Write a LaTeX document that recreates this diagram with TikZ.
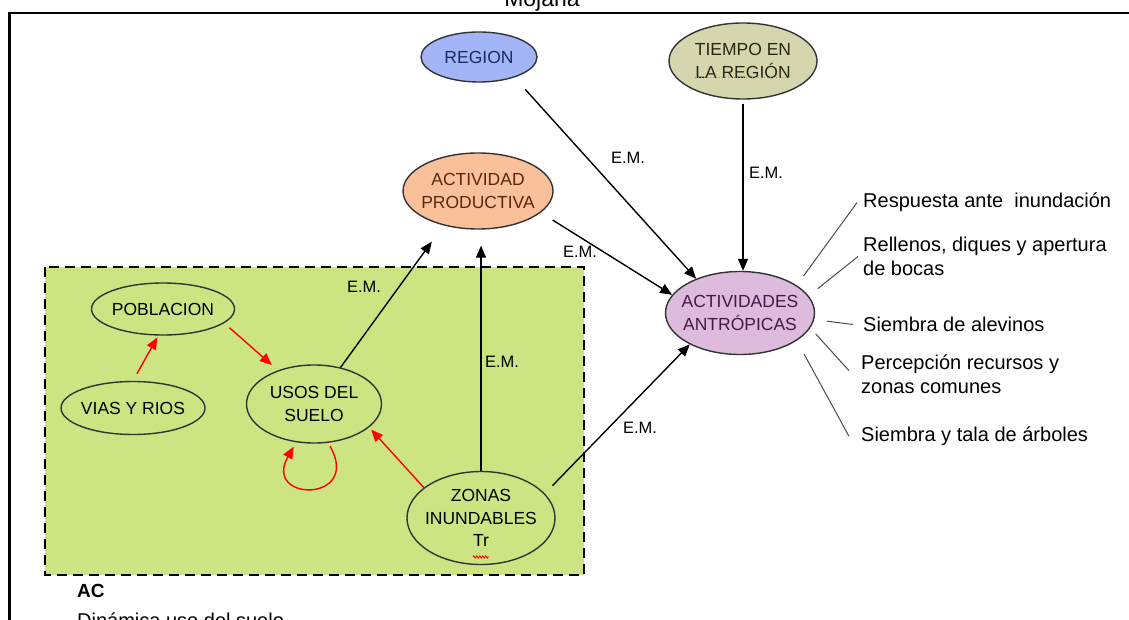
\documentclass[tikz,border=0pt]{standalone}
\usepackage{fontspec}
\setmainfont{Liberation Sans}
\usepackage{xcolor}
\usepackage{tikz}
\usetikzlibrary{arrows.meta,positioning,shapes.geometric,decorations.pathmorphing}
\definecolor{acgreen}{RGB}{205,228,131}
\definecolor{regionblue}{RGB}{163,181,246}
\definecolor{regiontext}{RGB}{30,42,100}
\definecolor{tiempokhaki}{RGB}{213,213,174}
\definecolor{tiempotext}{RGB}{40,40,20}
\definecolor{prodpeach}{RGB}{249,192,154}
\definecolor{prodtext}{RGB}{90,40,15}
\definecolor{antrolilac}{RGB}{221,187,221}
\definecolor{antrotext}{RGB}{70,25,70}
\tikzset{
  dnode/.style={ellipse, draw=black!80, line width=1.4pt, align=center, inner xsep=-12pt, inner ysep=-3pt, font=\fontsize{17.5}{22.5}\selectfont},
  dem/.style={inner sep=0pt, font=\fontsize{16.5}{19}\selectfont},
  dleaf/.style={anchor=west, align=left, inner sep=0pt, font=\fontsize{20}{24}\selectfont},
  darrow/.style={-{Triangle[length=12pt,width=10pt]}, line width=1.4pt},
  dred/.style={-{Triangle[length=12pt,width=10pt]}, line width=1.4pt, red},
  dspoke/.style={line width=1pt, black!70},
  dframe/.style={draw, dash pattern=on 10pt off 6pt, line width=2pt, fill=acgreen}
}

\begin{document}
\begin{tikzpicture}[x=1pt,y=-1pt]
\useasboundingbox (0,0) rectangle (1129,620);
\clip (0,0) rectangle (1129,620);
\draw[line width=2.5pt] (9.5,620) -- (9.5,13) -- (1129,13);
\node[anchor=base, inner sep=0pt, font=\fontsize{23}{26}\selectfont] (mojana) at (542,7) {Mojana};
\draw[dframe] (45,267) rectangle (584,575);
\node[dnode, fill=regionblue, text=regiontext, minimum width=116pt, minimum height=50pt] (region) at (479,57) {REGION};
\node[dnode, fill=tiempokhaki, text=tiempotext, minimum width=148pt, minimum height=76pt] (tiempo) at (743,61) {TIEMPO EN\\LA REGIÓN};
\node[dnode, fill=prodpeach, text=prodtext, minimum width=150pt, minimum height=76pt] (actividad) at (478,191) {ACTIVIDAD\\PRODUCTIVA};
\node[dnode, fill=antrolilac, text=antrotext, minimum width=149pt, minimum height=83pt] (actividades) at (740,313) {ACTIVIDADES\\ANTRÓPICAS};
\node[dnode, minimum width=143pt, minimum height=52pt] (poblacion) at (163,309) {POBLACION};
\node[dnode, minimum width=144pt, minimum height=53pt] (vias) at (133,408) {VIAS Y RIOS};
\node[dnode, minimum width=135pt, minimum height=78pt] (usos) at (314,404) {USOS DEL\\SUELO};
\node[dnode, minimum width=148pt, minimum height=93pt] (zonas) at (481,518) {ZONAS\\INUNDABLES\\Tr};
\draw[red, line width=0.8pt, decorate, decoration={zigzag, amplitude=1.2pt, segment length=3pt}] ([xshift=-8pt,yshift=-39pt]zonas.center) -- ([xshift=8pt,yshift=-39pt]zonas.center);
\draw[magenta!70, line width=1pt, dotted] ([xshift=-48pt,yshift=-17pt]tiempo.center) -- ([xshift=48pt,yshift=-17pt]tiempo.center);
\node[dem] (emregion) at (628,158) {E.M.};
\node[dem] (emtiempo) at (766,173) {E.M.};
\node[dem] (emprod) at (580,252) {E.M.};
\node[dem] (emusos) at (364,287) {E.M.};
\node[dem] (emzonas) at (502,362) {E.M.};
\node[dem] (eminund) at (640,428) {E.M.};
\node[dleaf] (resp) at (863,202.6) {Respuesta ante\ \ inundación};
\node[dleaf] (rellenos) at (863,256.5) {Rellenos, diques y apertura\\de bocas};
\node[dleaf] (alevinos) at (863,324.5) {Siembra de alevinos};
\node[dleaf] (percepcion) at (861,374.7) {Percepción recursos y\\zonas comunes};
\node[dleaf] (arboles) at (861,436.3) {Siembra y tala de árboles};
\node[anchor=base west, inner sep=0pt, font=\bfseries\fontsize{19}{22}\selectfont] (ac) at (77,597) {AC};
\node[anchor=base west, inner sep=0pt, font=\fontsize{20}{24}\selectfont] (dinamica) at (77,627) {Dinámica uso del suelo};
\draw[darrow, shorten <=16pt] (region.-30) -- (actividades.142);
\draw[darrow, shorten <=4pt] (tiempo.south) -- (tiempo.south |- actividades.north);
\draw[darrow, shorten <=14pt] (actividad.-19) -- (actividades.165);
\draw[darrow, shorten >=20pt] (usos.54) -- (actividad.225);
\draw[darrow, shorten >=16pt] (zonas.north) -- (zonas.north |- actividad.south);
\draw[darrow, shorten <=11pt] (zonas.21) -- (actividades.212);
\draw[dred, shorten <=8pt, shorten >=2pt] (vias.north) -- (poblacion.260);
\draw[dred, shorten <=7pt, shorten >=8pt] (poblacion.-13) -- (usos.137);
\draw[dred, shorten >=3pt] (zonas.152) -- (usos.-23);
\draw[dred, shorten <=4pt, shorten >=5pt] (usos.-70) .. controls +(34,60) and +(-34,60) .. (usos.-115);
\draw[dspoke, shorten <=11.5pt] (actividades.26) -- ([xshift=-6pt]resp.west);
\draw[dspoke, shorten <=11.5pt] (actividades.14) -- ([xshift=-5pt]rellenos.west);
\draw[dspoke, shorten <=12.6pt] (actividades.-5) -- ([xshift=-10pt]alevinos.west);
\draw[dspoke, shorten <=8pt] (actividades.-12) -- ([xshift=-12pt,yshift=4pt]percepcion.west);
\draw[dspoke, shorten <=15pt] (actividades.-26) -- ([xshift=-12pt]arboles.west);
\end{tikzpicture}
\end{document}
